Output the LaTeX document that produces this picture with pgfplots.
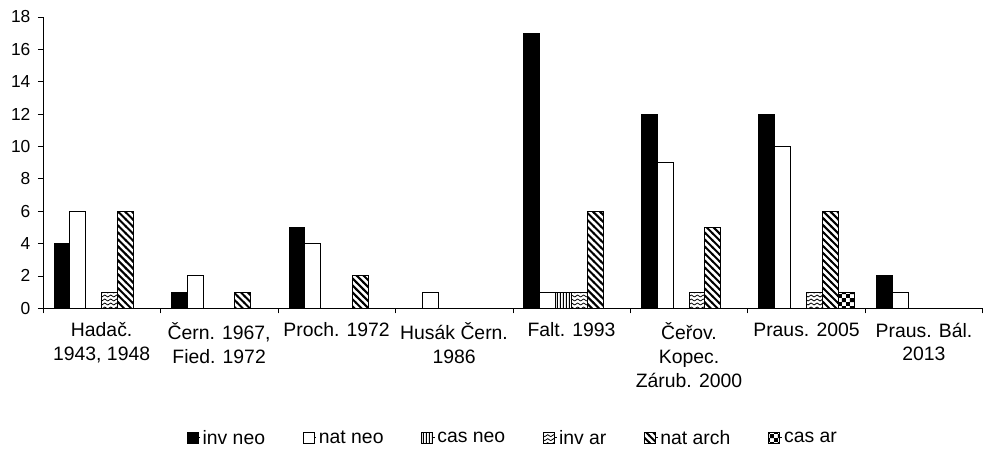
\documentclass[border=0pt]{standalone}
\usepackage{pgfplots}
\pgfplotsset{compat=1.18}
\usepackage{fontspec}
\setmainfont{Liberation Sans}
\usetikzlibrary{patterns}

\pgfdeclarepatternformonly{natarch}{\pgfqpoint{-1bp}{-1bp}}{\pgfqpoint{8bp}{8bp}}{\pgfqpoint{7bp}{7bp}}{%
  \pgfsetlinewidth{2bp}%
  \pgfpathmoveto{\pgfqpoint{-1bp}{8bp}}\pgfpathlineto{\pgfqpoint{8bp}{-1bp}}\pgfusepath{stroke}}
\pgfdeclarepatternformonly{casneo}{\pgfqpoint{0bp}{0bp}}{\pgfqpoint{3bp}{3bp}}{\pgfqpoint{3bp}{3bp}}{%
  \pgfsetlinewidth{1bp}%
  \pgfpathmoveto{\pgfqpoint{1.5bp}{-0.5bp}}\pgfpathlineto{\pgfqpoint{1.5bp}{3.5bp}}\pgfusepath{stroke}}
\pgfdeclarepatternformonly{invar}{\pgfqpoint{-0.5bp}{-0.5bp}}{\pgfqpoint{6.5bp}{4.5bp}}{\pgfqpoint{6bp}{4bp}}{%
  \pgfsetlinewidth{0.8bp}%
  \pgfpathmoveto{\pgfqpoint{0bp}{1bp}}\pgfpathlineto{\pgfqpoint{3bp}{3bp}}\pgfpathlineto{\pgfqpoint{6bp}{1bp}}\pgfusepath{stroke}}
\pgfdeclarepatternformonly{casar}{\pgfqpoint{0bp}{0bp}}{\pgfqpoint{8bp}{8bp}}{\pgfqpoint{8bp}{8bp}}{%
  \pgfpathrectangle{\pgfqpoint{0bp}{0bp}}{\pgfqpoint{4bp}{4bp}}%
  \pgfpathrectangle{\pgfqpoint{4bp}{4bp}}{\pgfqpoint{4bp}{4bp}}\pgfusepath{fill}}

\begin{document}
\begin{tikzpicture}
\path (0,0) rectangle (986bp,444bp);
\begin{axis}[
  at={(43bp,135bp)}, anchor=south west,
  width=942bp, height=292bp, scale only axis,
  xmin=-0.5, xmax=7.5, ymin=0, ymax=18,
  axis x line=bottom, axis y line=left,
  axis line style={-, black, line width=0.6bp},
  xtick={-0.5,0.5,...,7.5}, xticklabels={},
  extra x ticks={0,1,2,3,4,5,6,7},
  extra x tick labels={{Hadač.\\1943, 1948},{Čern. 1967,\\Fied. 1972},{Proch. 1972},{Husák Čern.\\1986},{Falt. 1993},{Čeřov.\\Kopec.\\Zárub. 2000},{Praus. 2005},{Praus. Bál.\\2013}},
  extra x tick style={major tick length=0pt, tick label style={align=center, anchor=north, yshift=-11bp, font=\fontsize{19.5}{24}\selectfont}},
  ytick={0,2,...,18},
  tick align=outside, major tick length=5bp,
  tick style={black, line width=0.6bp},
  /pgf/number format/assume math mode=true,
  yticklabel style={font=\fontsize{17.5}{21}\selectfont, xshift=-4bp},
  ybar, bar width=0.135, bar shift=0pt,
  every axis plot/.append style={draw=black, line width=1bp},
  legend image code/.code={\draw[#1, line width=0.9bp] (0bp,-5.5bp) rectangle (11bp,5.5bp); \path (11bp,0bp) -- (13bp,0bp);},
  legend style={at={(0.5,-0.445)}, anchor=center, legend columns=6, draw=none,
    font=\fontsize{19.5}{22}\selectfont,
    /tikz/every even column/.append style={column sep=36bp}},
]
\addplot[fill=black] coordinates {(-0.3375,4) (0.6625,1) (1.6625,5) (3.6625,17) (4.6625,12) (5.6625,12) (6.6625,2)};
\addplot[fill=white] coordinates {(-0.2025,6) (0.7975,2) (1.7975,4) (2.7975,1) (3.7975,1) (4.7975,9) (5.7975,10) (6.7975,1)};
\addplot[pattern=casneo] coordinates {(3.9325,1)};
\addplot[pattern=invar] coordinates {(0.0675,1) (4.0675,1) (5.0675,1) (6.0675,1)};
\addplot[pattern=natarch] coordinates {(0.2025,6) (1.2025,1) (2.2025,2) (4.2025,6) (5.2025,5) (6.2025,6)};
\addplot[pattern=casar] coordinates {(6.3375,1)};
\legend{inv neo, nat neo, cas neo, inv ar, nat arch, cas ar}
\end{axis}
\end{tikzpicture}
\end{document}
